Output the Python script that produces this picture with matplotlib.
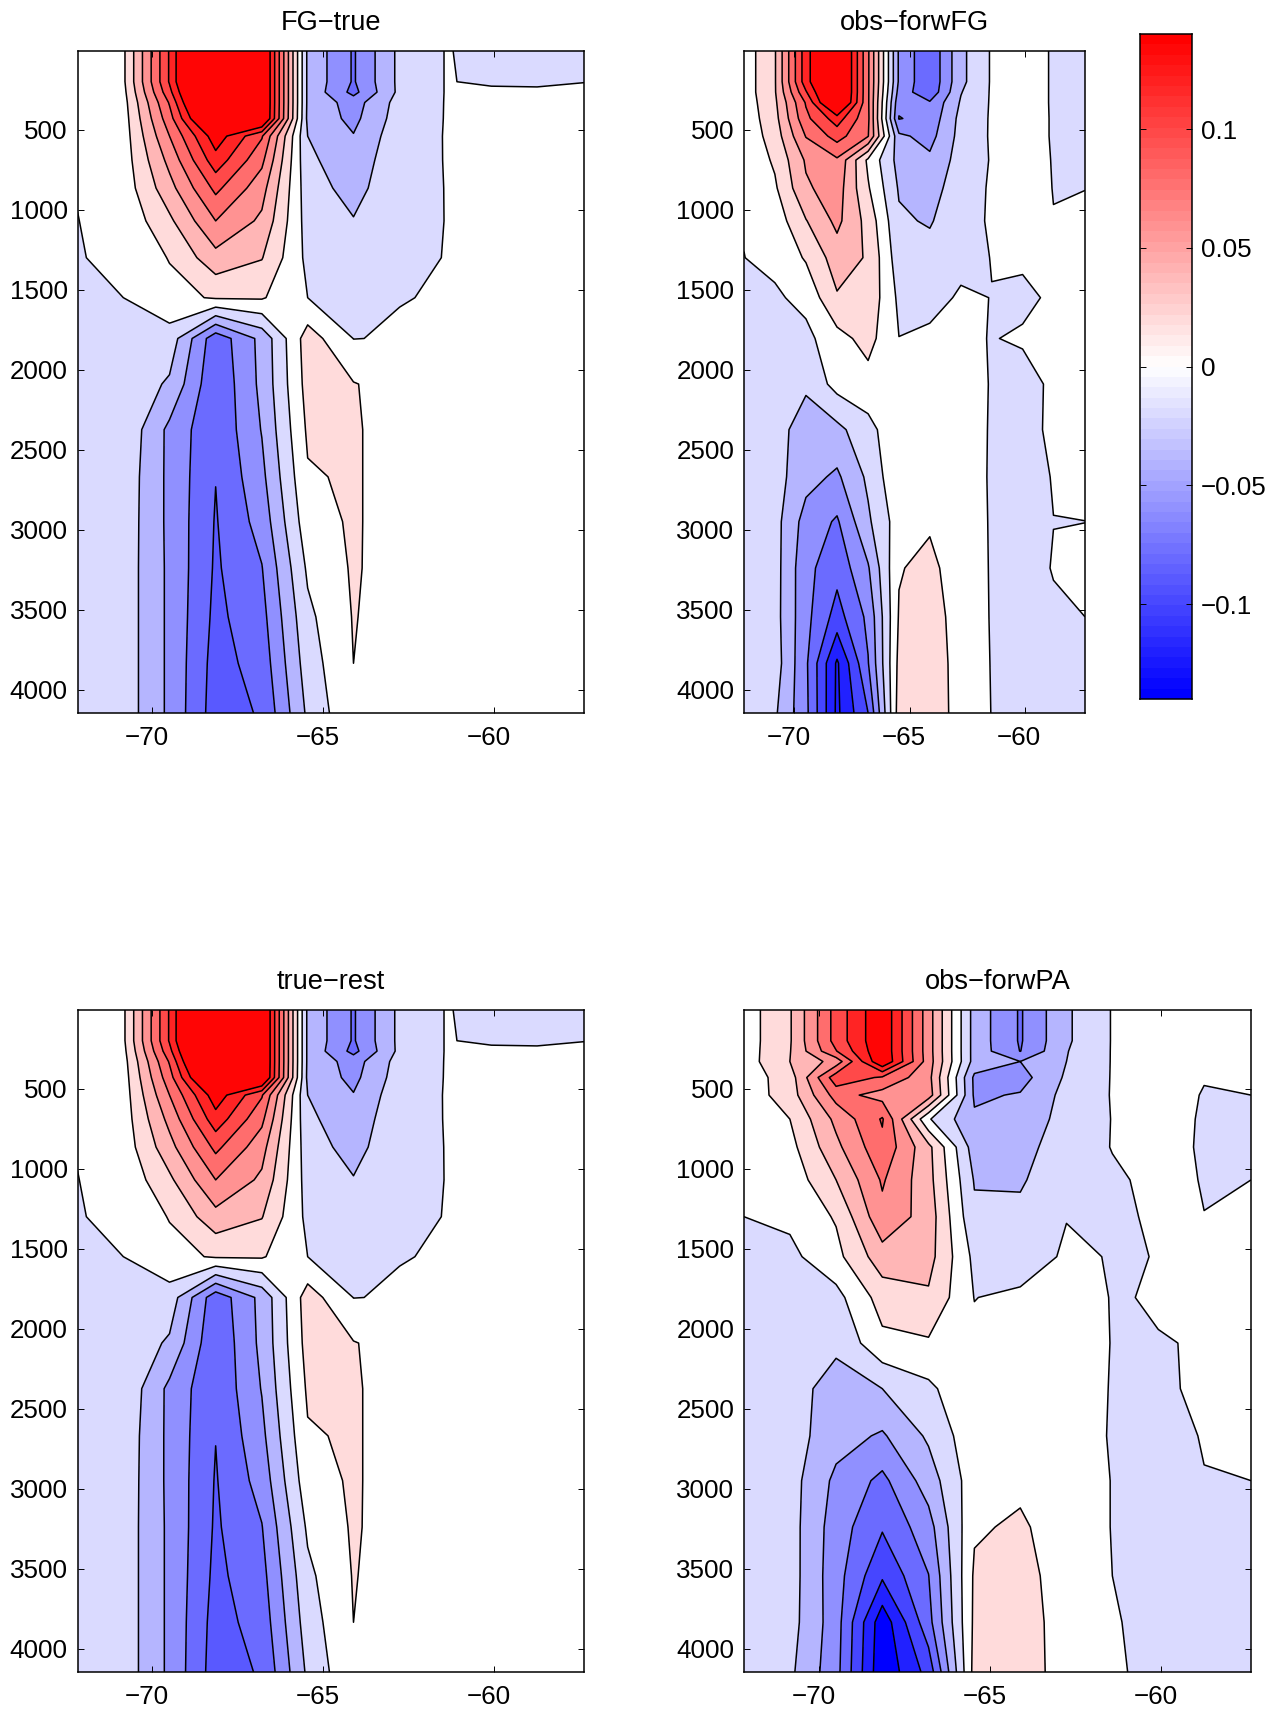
import numpy as np
import matplotlib
matplotlib.use("Agg")
import matplotlib.pyplot as plt
from matplotlib.colors import ListedColormap
from matplotlib.transforms import ScaledTranslation

plt.rcParams["font.family"] = ["Liberation Sans", "DejaVu Sans"]

lon = [-72.19, -70.85, -69.5, -68.15, -66.8, -65.46, -64.12, -62.77, -61.43, -60.09, -58.75, -57.38]
depth = [8, 200, 265, 330, 430, 540, 690, 865, 1070, 1300, 1550, 1805, 2090, 2375, 2670, 2950, 3240, 3545, 3835, 4146]

# Fields in units of 0.001, one row per depth
fg_true = [
    [0, 6.2, 112, 238, 166, -34, -72, -25, -9.5, -12.5, -13, -13],
    [0, 6.2, 112, 238, 166, -34, -72, -25, -9.5, -11.5, -11, -10.2],
    [-1, 4.2, 104, 226, 166, -34, -76, -25, -9.5, -8, -9, -8],
    [-2, 2.2, 92, 218, 166, -34, -59, -22, -9.5, -6, -6, -6],
    [-3, 0.6, 82, 187, 165, -35, -55.4, -20, -9.5, -5, -5, -5],
    [-4, -0.2, 70, 142, 92, -30, -49, -17, -9.5, -5, -5, -5],
    [-6, -0.6, 56, 122, 75, -26, -42, -16, -9.6, -5, -5, -5],
    [-9.5, -1.6, 43, 95, 58, -21.5, -37, -15, -9.8, -5, -5, -5],
    [-10.2, -5.3, 26, 70, 46, -18.5, -29, -13, -9.9, -5, -5, -5],
    [-11.2, -5, 11, 43, 31, -15, -23, -12, -9.8, -5, -5, -5],
    [-13, -10, 4, 12, 12, -10, -18, -10.3, -9.4, -5, -5, -5],
    [-13, -13, -18.4, -83, -44, 20, -10.3, -9, -6, -4, -4, -4],
    [-13, -15, -33, -87, -45, 17.4, 11, 2, -3, -3, -3, -3],
    [-13, -13.6, -54.8, -87, -49, 13, 12.5, 0, -3, -3, -3, -3],
    [-13, -16.8, -54.7, -89.6, -55, 8, 12.5, 0, -3, -3, -3, -3],
    [-13, -17.6, -54.6, -91.4, -62, 2, 12.5, 0, -3, -3, -3, -3],
    [-13, -18.3, -54, -92.7, -70.8, -6.8, 12.3, 0, -3, -3, -3, -3],
    [-13, -18.3, -54, -95, -76.5, -14.6, 11.1, 0, -3, -3, -3, -3],
    [-13, -18.3, -54, -98, -81.6, -20, 10, 0, -3, -3, -3, -3],
    [-13, -18.3, -54, -100, -87.8, -26.3, 8, 0, -3, -3, -3, -3],
]

obs_forw_fg = [
    [-1, 28, 122, 180, 73, -53, -87, -35, -8, -2, -11.5, -12],
    [-1, 28, 122, 180, 73, -53, -87, -35, -8, -2, -11.5, -12],
    [-1, 28, 108, 180, 73, -58, -85, -31, -8, -2, -11.5, -12],
    [-2, 26, 92, 175, 73, -65, -68, -28, -8, -2, -11.5, -12],
    [-3, 23, 85, 120, 74, -71, -63, -24, -8, -1, -11.5, -12.5],
    [-4, 19, 71, 98, 71, -46, -57, -23, -8, -1, -11.5, -13],
    [-6, 13, 52.5, 67, 6, -37, -46, -21.7, -8.7, 0, -11, -13],
    [-7, 7, 47, 60, 12, -32, -40, -16.5, -8.5, 0, -10.5, -10.3],
    [-9, -1.7, 29, 55, 23, -27, -32, -15, -8.5, 0, -9.5, -6],
    [-10.2, -5, 12, 40, 28, -21.5, -22, -14, -9.7, -6, -5, -5],
    [-13, -13, -4.2, 28, 24.6, -14, -15, -8.2, -10.2, -15.5, -6, -5],
    [-13, -14, -15.4, 3, 17, -9.8, -7, -5, -11, -7, -5, -4],
    [-14, -16, -26, -2.9, 2.5, 5, 5, -2, -11, -20, -5.2, -4],
    [-14, -20, -42, -35.5, -16.7, 5.6, 5, -2, -11.3, -18, -5.6, -4],
    [-14, -22, -43.2, -53.4, -26.2, 7.3, 4, -2, -11.5, -15, -9.4, -5],
    [-14, -22.7, -58, -72.5, -33.3, 0, 7.3, -2, -11.2, -14, -10.1, -10.1],
    [-14, -22, -64, -83.5, -52, 8.7, 15.6, -2, -11, -14, -9.5, -6],
    [-14, -22.4, -64, -98, -65.5, 11.6, 22.5, -2, -10.8, -14, -11.5, -10],
    [-14, -20, -66.5, -133, -71, 15.4, 26.9, -2, -10.5, -14, -13, -12],
    [-14, -27, -65, -134, -90, 19.4, 28.5, -2, -10.25, -14, -13, -12],
]

# The two left panels show the same field
true_rest = fg_true

obs_forw_pa = [
    [0, 28, 98, 148, 59, -38, -72, -33, -9, -2, -3, -3],
    [0, 28, 98, 148, 59, -38, -72, -33, -9, -2, -3, -3],
    [0, 29, 89, 148, 59, -38, -70.5, -31, -9, -2, -3, -3],
    [0, 30, 58, 150, 60, -38, -50, -30, -9, -3, -4, -4],
    [-1, 20, 102, 87.5, 56.6, -54, -58, -27, -9, -5, -9.5, -8],
    [-2, 20, 78, 62, 60, -53, -48.4, -24, -9, -5, -10.6, -10],
    [-3, 10, 55, 92, -8, -47, -43, -22.4, -9.5, -5, -11.2, -12],
    [-6, 3.5, 45, 85, 35.5, -40, -38, -18, -9.5, -6, -11.2, -12],
    [-8, -3, 30, 72.3, 37, -31.5, -32, -18, -12, -6.8, -10.5, -10],
    [-10, -6, 12, 64.7, 41, -26, -26, -10.8, -14, -7, -9.9, -8],
    [-13, -15, 4, 41.5, 37.6, -15, -25, -6, -11.2, -9.7, -6, -5],
    [-13, -17, -16.6, 18.5, 27, -10.5, -4.7, -2, -10.7, -9.3, -6, -5],
    [-14, -19, -27, 5, 7.5, -5, -3, -1, -10.5, -10.3, -9.6, -6],
    [-14, -24, -36, -30, -14.4, 8, 0, -1, -10.9, -14, -5.7, -5],
    [-14, -20.8, -42, -52.5, -26.8, 4, 0, -1, -11.3, -17, -8.9, -6],
    [-14, -21.6, -54.7, -75, -40.5, 1.8, 6, 0, -10.5, -17, -10.6, -10],
    [-14, -21.4, -60, -88, -58, 7.7, 12.8, 0, -10.5, -16, -14, -12],
    [-14, -21, -61.8, -107, -70.5, 13, 17.6, 0, -10, -16, -15, -14],
    [-14, -22, -61, -143, -77, 14, 20.7, 0, -8.4, -16, -15, -14],
    [-14, -26, -63, -146, -103, 17, 21.7, 0, -7, -16, -15, -14],
]

levels = [-0.13, -0.11, -0.09, -0.07, -0.05, -0.03, -0.01, 0.01, 0.03, 0.05, 0.07, 0.09, 0.11, 0.13]
x_ticks = [-70, -65, -60]
y_ticks = [500, 1000, 1500, 2000, 2500, 3000, 3500, 4000]
cbar_ticks = [-0.1, -0.05, 0, 0.05, 0.1]
cbar_labels = ["\u22120.1", "\u22120.05", "0", "0.05", "0.1"]

W, H = 1282, 1711
VMAX = 0.14
FONT = 18.7
TITLE_FONT = 19.6
TOP_RED = 0.137  # the open end of the scale is filled by the field's extreme


def box(left, top, right, bottom):
    """
        Axes rectangle from pixel edges
    """
    return (left / W, 1 - bottom / H, (right - left) / W, (bottom - top) / H)


def blue_white_red(value, blue_max=VMAX):
    """
        White at zero, full blue and red at the ends of the scale
    """
    if value < 0:
        f = min(-value / blue_max, 1.0)
        return (1 - f, 1 - f, 1.0)
    f = min(value / VMAX, 1.0)
    return (1.0, 1 - f, 1 - f)


def draw_panel(fig, ax, field, title, low_end):
    z = np.array(field) / 1000.0
    bounds = [-0.3] + levels + [0.3]
    centres = (np.array(bounds[:-1]) + np.array(bounds[1:])) / 2
    colors = [blue_white_red(c, 0.138) for c in centres]
    # The deepest band of each panel is only a shade past the one around it
    deepest = int(np.searchsorted(bounds, z.min())) - 1
    colors[deepest] = blue_white_red(low_end)
    colors[-1] = blue_white_red(TOP_RED)
    ax.contourf(lon, depth, z, levels=bounds, colors=colors)
    ax.contour(lon, depth, z, levels=levels, colors="k", linewidths=1.1, linestyles="solid")
    ax.set_xlim(lon[0], lon[-1])
    ax.set_ylim(depth[-1], depth[0])
    ax.set_xticks(x_ticks)
    ax.set_xticklabels([str(t).replace("-", "\u2212") for t in x_ticks])
    ax.set_yticks(y_ticks)
    ax.set_title(title, fontsize=TITLE_FONT, pad=15)
    ax.tick_params(direction="in", top=True, right=True, length=4.5, width=0.7, labelsize=FONT)
    ax.tick_params(axis="x", pad=9)
    ax.tick_params(axis="y", pad=7)
    # The x labels sit a little left of their ticks
    shift = ScaledTranslation(-5.5 / 100, 0, fig.dpi_scale_trans)
    for label in ax.get_xticklabels():
        label.set_transform(label.get_transform() + shift)
    for spine in ax.spines.values():
        spine.set_linewidth(1.1)


def main():
    fig = plt.figure(figsize=(W / 100, H / 100), dpi=100)

    ax1 = fig.add_axes(box(77.5, 51, 584, 713))
    ax2 = fig.add_axes(box(744, 51, 1085, 713))
    ax3 = fig.add_axes(box(77.5, 1010, 584, 1672))
    ax4 = fig.add_axes(box(744, 1010, 1251, 1672))

    draw_panel(fig, ax1, fg_true, "FG\u2212true", -0.091)
    draw_panel(fig, ax2, obs_forw_fg, "obs\u2212forwFG", -0.123)
    draw_panel(fig, ax3, true_rest, "true\u2212rest", -0.091)
    draw_panel(fig, ax4, obs_forw_pa, "obs\u2212forwPA", -0.14)

    # Colour bar with 64 steps, ticks inside on both sides
    cax = fig.add_axes(box(1140, 34, 1191.5, 699))
    edges = np.linspace(-VMAX, VMAX, 65)
    steps = np.linspace(-VMAX, VMAX, 64)
    cbar_map = ListedColormap([blue_white_red(s) for s in steps])
    cax.pcolormesh([0, 1], edges, steps[:, None], cmap=cbar_map, vmin=-VMAX, vmax=VMAX)
    cax.set_xticks([])
    cax.yaxis.tick_right()
    cax.set_yticks(cbar_ticks)
    cax.set_yticklabels(cbar_labels)
    cax.tick_params(direction="in", left=True, right=True, length=4.5, width=0.7, labelsize=FONT, pad=7)
    for spine in cax.spines.values():
        spine.set_linewidth(1.1)

    fig.savefig("out.png", dpi=100)


if __name__ == "__main__":
    main()
